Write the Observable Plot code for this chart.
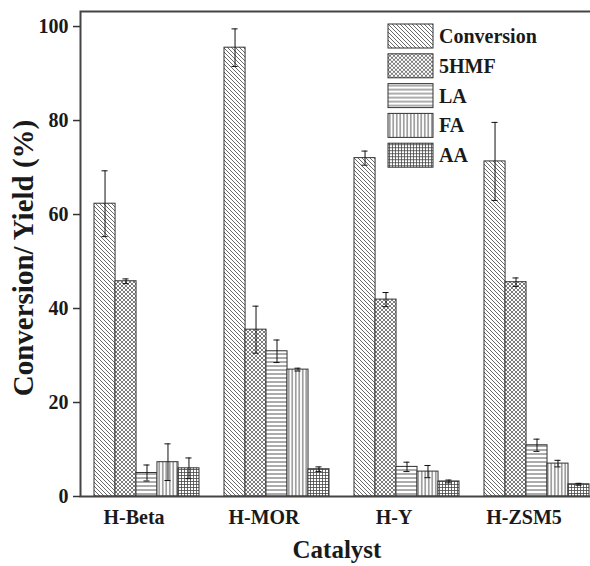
<!DOCTYPE html>
<html><head><meta charset="utf-8">
<script src="https://cdn.jsdelivr.net/npm/d3@7"></script>
<script src="https://cdn.jsdelivr.net/npm/@observablehq/plot@0.6"></script>
<style>html,body{margin:0;padding:0;background:#fff;overflow:hidden}
#chart svg, #chart svg text{font-family:"Liberation Serif","Times New Roman",serif !important;font-weight:bold}</style>
</head><body><div id="chart"></div>
<script>
const catalysts = ["H-Beta", "H-MOR", "H-Y", "H-ZSM5"];
const series = ["Conversion", "5HMF", "LA", "FA", "AA"];
const conversion = [62.3, 95.5, 72.0, 71.3];
const conversionErr = [7.0, 4.0, 1.5, 8.3];
const hmf = [45.8, 35.5, 41.9, 45.6];
const hmfErr = [0.5, 5.0, 1.5, 0.9];
const la = [5.0, 30.9, 6.3, 10.9];
const laErr = [1.7, 2.4, 1.0, 1.3];
const fa = [7.3, 27.0, 5.3, 7.0];
const faErr = [3.9, 0.3, 1.3, 0.7];
const aa = [6.0, 5.8, 3.2, 2.6];
const aaErr = [2.2, 0.5, 0.3, 0.2];
const yTicks = [0, 20, 40, 60, 80, 100];

const values = [conversion, hmf, la, fa, aa];
const errors = [conversionErr, hmfErr, laErr, faErr, aaErr];

const W = 590, H = 566, mL = 80, mR = -12, mT = 11, mB = 70;
const padIn = 0.195, padOut = 0.1;
const step = (W - mR - mL) / (catalysts.length - padIn + 2 * padOut);
const band = step * (1 - padIn);
const bw = band / series.length;
const capW = 6;
const FONT = '"Liberation Serif", "Times New Roman", serif';

const rows = [];
catalysts.forEach((c, j) => series.forEach((s, i) =>
  rows.push({catalyst: c, series: s, value: values[i][j], err: errors[i][j]})));

const marks = [];
series.forEach((s, i) => {
  const d = rows.filter(r => r.series === s);
  const li = i * bw, ri = (series.length - 1 - i) * bw;
  marks.push(Plot.barY(d, {x: "catalyst", y: "value", fill: `url(#pat${i})`, stroke: "#333", strokeWidth: 1, insetLeft: li, insetRight: ri}));
  marks.push(Plot.ruleX(d, {x: "catalyst", y1: r => r.value - r.err, y2: r => r.value + r.err, dx: (i - 2) * bw, stroke: "#111", strokeWidth: 1}));
  marks.push(Plot.tickY(d, {x: "catalyst", y: r => r.value + r.err, insetLeft: li + (bw - capW) / 2, insetRight: ri + (bw - capW) / 2, stroke: "#111", strokeWidth: 1}));
  marks.push(Plot.tickY(d, {x: "catalyst", y: r => r.value - r.err, insetLeft: li + (bw - capW) / 2, insetRight: ri + (bw - capW) / 2, stroke: "#111", strokeWidth: 1}));
});

const svg = Plot.plot({
  width: W, height: H,
  marginLeft: mL, marginRight: mR, marginTop: mT, marginBottom: mB,
  style: {fontFamily: FONT, fontSize: "20px", fontWeight: "bold", color: "#1a1a1a", background: "#fff"},
  x: {type: "band", domain: catalysts, paddingInner: padIn, paddingOuter: padOut, label: null},
  y: {domain: [0, 103.2], label: null},
  marks: [
    ...marks,
    Plot.frame({stroke: "#444", strokeWidth: 2}),
    Plot.axisY(yTicks, {tickSize: 7, tickPadding: 5, label: null, stroke: "#333", strokeWidth: 1.5}),
    Plot.axisX({tickSize: 0, tickPadding: 13, dx: -13, label: null})
  ]
});

const sel = d3.select(svg);
const defs = sel.insert("defs", ":first-child");
const pc = "#454545";
function pat(id, size, draw) {
  const p = defs.append("pattern").attr("id", id).attr("patternUnits", "userSpaceOnUse")
    .attr("width", size).attr("height", size);
  p.append("rect").attr("width", size).attr("height", size).attr("fill", "#fff");
  draw(p, size);
}
pat("pat0", 4, (p, s) => p.append("path").attr("d", `M-1,-1L${s+1},${s+1}M-1,${s-1}L1,${s+1}M${s-1},-1L${s+1},1`).attr("stroke", pc).attr("stroke-width", 0.8));
pat("pat1", 4, (p, s) => p.append("path").attr("d", `M-1,-1L${s+1},${s+1}M-1,${s-1}L1,${s+1}M${s-1},-1L${s+1},1M${s+1},-1L-1,${s+1}M-1,1L1,-1M${s-1},${s+1}L${s+1},${s-1}`).attr("stroke", pc).attr("stroke-width", 0.7));
pat("pat2", 4, (p, s) => p.append("path").attr("d", `M0,2L${s},2`).attr("stroke", pc).attr("stroke-width", 0.9));
pat("pat3", 3.5, (p, s) => p.append("path").attr("d", `M1.75,0L1.75,${s}`).attr("stroke", pc).attr("stroke-width", 0.9));
pat("pat4", 3, (p, s) => p.append("path").attr("d", `M0,1.5L${s},1.5M1.5,0L1.5,${s}`).attr("stroke", pc).attr("stroke-width", 0.8));

// legend
const lg = sel.append("g").attr("transform", "translate(388,24)");
series.forEach((s, i) => {
  const g = lg.append("g").attr("transform", `translate(0,${i * 29.8})`);
  g.append("rect").attr("width", 45).attr("height", 24).attr("fill", `url(#pat${i})`).attr("stroke", "#333").attr("stroke-width", 1);
  g.append("text").attr("x", 51).attr("y", 19).attr("text-anchor", "start").attr("font-size", 20).attr("fill", "#1a1a1a").text(s);
});

// axis titles
sel.append("text").attr("transform", "translate(33,258) rotate(-90)").attr("text-anchor", "middle")
  .attr("font-size", 29).attr("fill", "#1a1a1a").text("Conversion/ Yield (%)");
sel.append("text").attr("x", 337).attr("y", 558).attr("text-anchor", "middle")
  .attr("font-size", 25).attr("fill", "#1a1a1a").text("Catalyst");

sel.selectAll("text").attr("font-family", FONT).attr("font-weight", "bold");

document.getElementById("chart").appendChild(svg);
</script>
</body></html>
